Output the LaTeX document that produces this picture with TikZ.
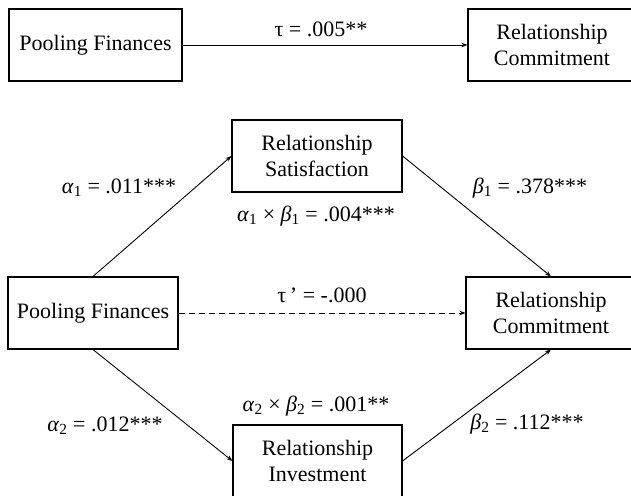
\documentclass[tikz,border=0pt]{standalone}
\usepackage{fontspec}
\setmainfont{Liberation Serif}
\usetikzlibrary{arrows.meta}
\begin{document}
\begin{tikzpicture}[x=1pt,y=-1pt,
  box/.style={draw,line width=1.1pt,align=center,inner sep=0pt,minimum height=72pt,font=\fontsize{22}{26}\selectfont},
  lbl/.style={inner sep=0pt,font=\fontsize{22}{26}\selectfont},
  conn/.style={line width=0.9pt,-{Stealth[length=6pt,width=4.5pt]}}]
\useasboundingbox (0,0) rectangle (631,495);
\clip (0,0) rectangle (631,495);
\node[box,minimum width=173pt] (pf1) at (95.5,45) {Pooling Finances};
\node[box,minimum width=168pt] (rc1) at (552,45) {Relationship\\Commitment};
\node[box,minimum width=170pt] (sat) at (317,156) {Relationship\\Satisfaction};
\node[box,minimum width=170pt] (pf2) at (93,313) {Pooling Finances};
\node[box,minimum width=170pt] (rc2) at (551,313) {Relationship\\Commitment};
\node[box,minimum width=169pt] (inv) at (317.5,461) {Relationship\\Investment};
\draw[conn] (pf1.east) -- (rc1.west);
\draw[conn] (pf2.north) -- (sat.west);
\draw[conn] (sat.east) -- (rc2.north);
\draw[conn,dashed,dash pattern=on 6pt off 4pt] (pf2.east) -- (rc2.west);
\draw[conn] (pf2.south) -- (inv.west);
\draw[conn] (inv.east) -- (rc2.south);
\node[lbl] (t1) at (321,29) {τ = .005**};
\node[lbl] (a1) at (119,188) {\textit{α}\textsubscript{1} = .011***};
\node[lbl] (ab1) at (316,216) {\textit{α}\textsubscript{1} × \textit{β}\textsubscript{1} = .004***};
\node[lbl] (b1) at (530,188) {\textit{β}\textsubscript{1} = .378***};
\node[lbl] (t2) at (322,295) {τ\,’ = -.000};
\node[lbl] (a2) at (105,426) {\textit{α}\textsubscript{2} = .012***};
\node[lbl] (ab2) at (316,406) {\textit{α}\textsubscript{2} × \textit{β}\textsubscript{2} = .001**};
\node[lbl] (b2) at (527,424) {\textit{β}\textsubscript{2} = .112***};
\end{tikzpicture}
\end{document}
